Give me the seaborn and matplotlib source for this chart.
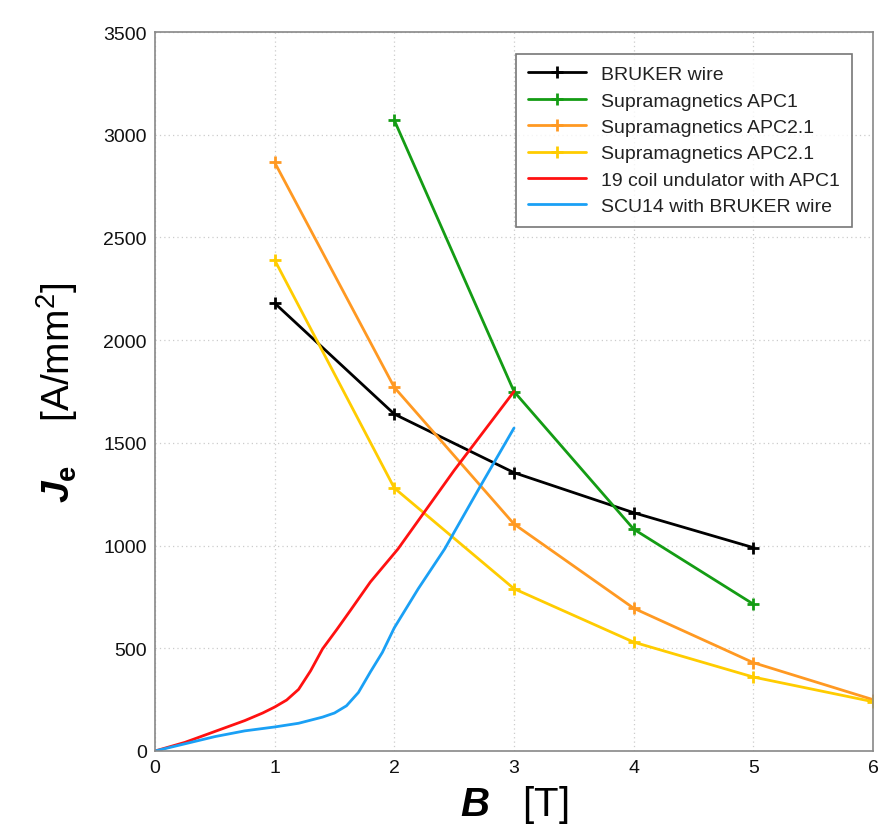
import matplotlib
matplotlib.use("Agg")
import matplotlib.pyplot as plt
import seaborn as sns
import pandas as pd

# ---- data ----
B_steps = [1, 2, 3, 4, 5]
bruker = [2180, 1640, 1355, 1160, 990]
apc1_B = [2, 3, 4, 5]
apc1 = [3070, 1750, 1080, 715]
apc21_B = [1, 2, 3, 4, 5, 6]
apc21_a = [2865, 1770, 1105, 695, 430, 250]
apc21_b = [2390, 1280, 790, 530, 360, 240]
und19_B = [0, 0.25, 0.5, 0.75, 0.9, 1.0, 1.1, 1.2, 1.3, 1.4, 1.52, 1.63, 1.8, 2.03, 2.5, 3.0]
und19 = [0, 42, 95, 148, 185, 214, 248, 300, 390, 497, 592, 682, 823, 983, 1366, 1750]
scu14_B = [0, 0.25, 0.5, 0.75, 1.0, 1.2, 1.4, 1.5, 1.6, 1.7, 1.8, 1.9, 2.0, 2.2, 2.42, 2.7, 3.0]
scu14 = [0, 35, 70, 98, 117, 135, 165, 185, 220, 285, 385, 480, 600, 790, 983, 1270, 1572]

labels = ["BRUKER wire", "Supramagnetics APC1", "Supramagnetics APC2.1",
          "Supramagnetics APC2.1", "19 coil undulator with APC1", "SCU14 with BRUKER wire"]
colors = ["#000000", "#149c14", "#ff9922", "#ffcc00", "#ff1111", "#1aa0f5"]
xticks = [0, 1, 2, 3, 4, 5, 6]
yticks = [0, 500, 1000, 1500, 2000, 2500, 3000, 3500]

sns.set_theme(style="white")
plt.rcParams["font.family"] = ["Liberation Sans", "DejaVu Sans"]
plt.rcParams["mathtext.fontset"] = "custom"
plt.rcParams["mathtext.rm"] = "Liberation Sans"
plt.rcParams["mathtext.it"] = "Liberation Sans:italic"
plt.rcParams["mathtext.bf"] = "Liberation Sans:bold"
try:
    plt.rcParams["mathtext.bfit"] = "Liberation Sans:bold:italic"
except KeyError:
    pass

fig = plt.figure(figsize=(8.85, 8.37), dpi=100)
ax = fig.add_axes([155 / 885, 1 - 752 / 837, 718 / 885, 719 / 837])

series = [
    (B_steps, bruker, True),
    (apc1_B, apc1, True),
    (apc21_B, apc21_a, True),
    (apc21_B, apc21_b, True),
    (und19_B, und19, False),
    (scu14_B, scu14, False),
]
for (xs, ys, mk), lab, col in zip(series, labels, colors):
    df = pd.DataFrame({"B": xs, "J": ys})
    sns.lineplot(data=df, x="B", y="J", ax=ax, sort=False, color=col, label=lab,
                 linewidth=2.0, marker="+" if mk else None, markersize=9,
                 markeredgewidth=2.0, markeredgecolor=col)
for line in ax.get_lines():
    line.set_solid_joinstyle("round")

ax.set_xlim(0, 6)
ax.set_ylim(0, 3500)
ax.set_xticks(xticks)
ax.set_yticks(yticks)
ax.tick_params(direction="in", length=5, width=1, colors="#777777",
               labelcolor="#111111", labelsize=14, pad=6)
ax.grid(True, color="#cccccc", linestyle=(0, (1, 2.5)), linewidth=0.9)
for s in ax.spines.values():
    s.set_color("#888888")
    s.set_linewidth(1.2)

ax.set_xlabel(r"$\mathbfit{B}$   [T]", fontsize=29, color="#000000")
ax.set_ylabel(r"$\mathbfit{J}_{\mathbf{e}}$    [A/mm$^{2}$]", fontsize=28, color="#000000")
ax.xaxis.set_label_coords(0.5, -0.045)
ax.xaxis.label.set_va("top")
ax.yaxis.set_label_coords(-0.105, 0.5)

leg = ax.legend(loc="upper right", bbox_to_anchor=(852 / 885, 1 - 55 / 837),
                bbox_transform=fig.transFigure, borderaxespad=0, fontsize=14,
                frameon=True, fancybox=False, edgecolor="#555555",
                handlelength=3.0, labelspacing=0.45, borderpad=0.6)
leg.get_frame().set_linewidth(1.2)
for t in leg.get_texts():
    t.set_color("#222222")

fig.savefig("out.png", dpi=100, facecolor="white")
